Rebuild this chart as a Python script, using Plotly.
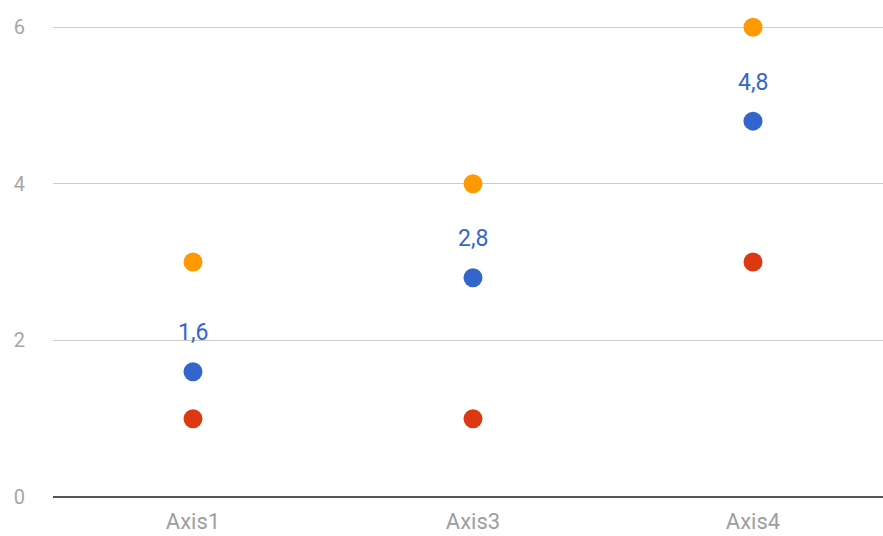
import plotly.graph_objects as go

categories = ["Axis1", "Axis3", "Axis4"]
series_red = [1, 1, 3]
series_blue = [1.6, 2.8, 4.8]
series_orange = [3, 4, 6]
blue_labels = ["1,6", "2,8", "4,8"]
y_ticks = [0, 2, 4, 6]

fig = go.Figure()
for vals, col in [(series_red, "#dc3912"), (series_blue, "#3366cc"), (series_orange, "#ff9900")]:
    fig.add_trace(go.Scatter(x=categories, y=vals, mode="markers",
                             marker=dict(color=col, size=19, line=dict(width=0)),
                             cliponaxis=False, showlegend=False, hoverinfo="skip"))

for c, v, t in zip(categories, series_blue, blue_labels):
    fig.add_annotation(x=c, y=v, text=t, showarrow=False, yshift=39,
                       font=dict(color="#3366cc", size=23, family="Roboto"))

fig.update_layout(
    width=883, height=536,
    margin=dict(l=53, r=0, t=26, b=39),
    paper_bgcolor="white", plot_bgcolor="white",
    font=dict(family="Roboto", size=20, color="#9e9e9e"),
    showlegend=False,
)
fig.update_xaxes(type="category", range=[-0.5, 2.4643], showgrid=False,
                 showline=False, zeroline=False, ticks="", ticklabelstandoff=9,
                 tickfont=dict(size=22, color="#9e9e9e"))
fig.update_yaxes(range=[0, 6.015], tickvals=y_ticks, showgrid=True, gridcolor="#cccccc",
                 gridwidth=1, zeroline=True, zerolinecolor="#555555", zerolinewidth=2,
                 showline=False, ticks="", ticklabelstandoff=27,
                 tickfont=dict(size=20, color="#a6a6a6"))

fig.write_html("out.html", config={"displayModeBar": False},
               post_script="document.body.style.margin='0';document.body.style.overflow='hidden';")
